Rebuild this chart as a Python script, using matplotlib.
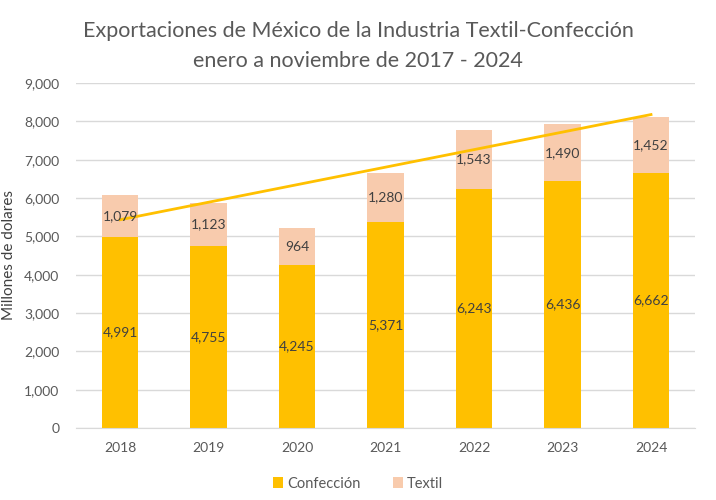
import numpy as np
import matplotlib
matplotlib.use('Agg')
import matplotlib.pyplot as plt
from matplotlib.ticker import FuncFormatter

plt.rcParams['font.family'] = ['Lato', 'DejaVu Sans']

# Datos (millones de dolares)
years = ['2018', '2019', '2020', '2021', '2022', '2023', '2024']
confeccion = [4991, 4755, 4245, 5371, 6243, 6436, 6662]
textil = [1079, 1123, 964, 1280, 1543, 1490, 1452]

gold = '#FFC000'
peach = '#F8CBAD'
grey_text = '#595959'

fig = plt.figure(figsize=(7.16, 5.0), dpi=100)
ax = fig.add_axes([0.106, 0.144, 0.865, 0.69])

x = np.arange(len(years))
w = 0.41
ax.bar(x, confeccion, w, color=gold, label='Confección', zorder=2)
ax.bar(x, textil, w, bottom=confeccion, color=peach, label='Textil', zorder=2)

for i in range(len(years)):
    ax.text(x[i], confeccion[i] / 2, f'{confeccion[i]:,}', ha='center', va='center',
            fontsize=10, color='#404040', zorder=4)
    ax.text(x[i], confeccion[i] + textil[i] / 2, f'{textil[i]:,}', ha='center', va='center',
            fontsize=10, color='#404040', zorder=4)

# linea de tendencia (lineal) del total
total = np.array(confeccion) + np.array(textil)
coef = np.polyfit(x, total, 1)
ax.plot(x, np.polyval(coef, x), color=gold, lw=2, zorder=3)

ax.set_xlim(-0.5, len(years) - 0.5)
ax.set_ylim(0, 9000)
ax.set_yticks(np.arange(0, 9001, 1000))
ax.yaxis.set_major_formatter(FuncFormatter(lambda v, p: f'{int(v):,}'))
ax.set_xticks(x)
ax.set_xticklabels(years)
ax.grid(axis='y', color='#D9D9D9', lw=1, zorder=0)
ax.tick_params(axis='both', length=0, colors=grey_text, labelsize=10)
ax.tick_params(axis='y', pad=12)
ax.tick_params(axis='x', pad=10)
for s in ['top', 'right', 'left']:
    ax.spines[s].set_visible(False)
ax.spines['bottom'].set_color('#D9D9D9')

ax.set_ylabel('Millones de dolares', fontsize=11, color='#404040', labelpad=6)

fig.text(0.5, 0.908, 'Exportaciones de México de la Industria Textil-Confección\nenero a noviembre de 2017 - 2024',
         ha='center', va='center', fontsize=15.5, color=grey_text, linespacing=1.6)

fig.legend(loc='center', bbox_to_anchor=(0.5, 0.033), ncol=2, frameon=False,
           fontsize=10.5, handlelength=0.7, handleheight=0.7, columnspacing=2.2,
           handletextpad=0.3, labelcolor=grey_text)

fig.savefig('out.png', dpi=100, facecolor='white')
